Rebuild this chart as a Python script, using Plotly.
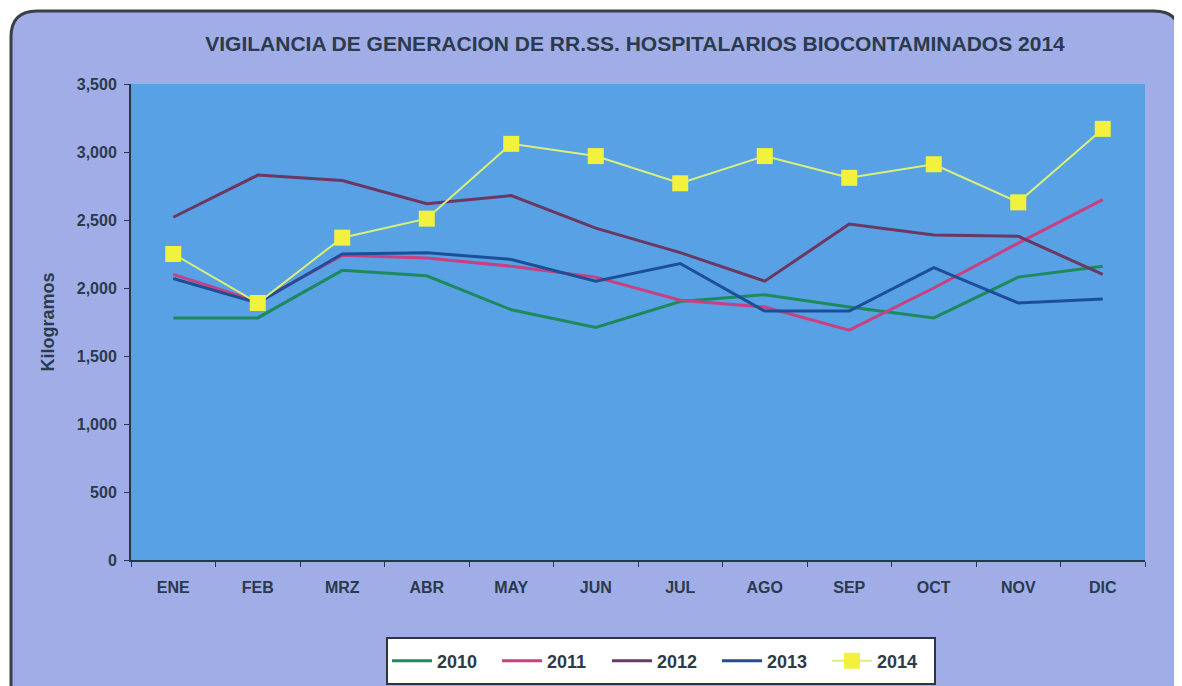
import plotly.graph_objects as go

MONTHS = ["ENE", "FEB", "MRZ", "ABR", "MAY", "JUN", "JUL", "AGO", "SEP", "OCT", "NOV", "DIC"]

KG_2010 = [1780, 1780, 2130, 2090, 1840, 1710, 1900, 1950, 1860, 1780, 2080, 2160]
KG_2011 = [2100, 1900, 2240, 2220, 2160, 2080, 1910, 1860, 1690, 2000, 2330, 2650]
KG_2012 = [2520, 2830, 2790, 2620, 2680, 2440, 2260, 2050, 2470, 2390, 2380, 2100]
KG_2013 = [2070, 1890, 2250, 2260, 2210, 2050, 2180, 1830, 1830, 2150, 1890, 1920]
KG_2014 = [2250, 1890, 2370, 2510, 3060, 2970, 2770, 2970, 2810, 2910, 2630, 3170]

Y_TICKS = [0, 500, 1000, 1500, 2000, 2500, 3000, 3500]

# la página tiene un margen de 8 px: se trabaja en píxeles de pantalla
OFFSET = 8
WIDTH, HEIGHT = 1182 - OFFSET, 686 - OFFSET
LEFT, RIGHT, TOP, BOTTOM = 131, 1145, 84, 560

TEXT_COLOR = "#2b3a4c"
AXIS_COLOR = "#1f3a4a"
FONT = "Liberation Sans, Arial, sans-serif"


def px_to_paper(px, py):
    """Convierte píxeles de pantalla a coordenadas 'paper'."""
    return (px - LEFT) / (RIGHT - LEFT), (BOTTOM - py) / (BOTTOM - TOP)


def px_to_container(px, py):
    """Convierte píxeles de pantalla a coordenadas 'container'."""
    return (px - OFFSET) / WIDTH, 1 - (py - OFFSET) / HEIGHT


def rounded_frame_path(x0, y0, x1, y1, r):
    """Marco redondeado del gráfico, en coordenadas paper."""
    def p(px, py):
        x, y = px_to_paper(px, py)
        return f"{x:.5f},{y:.5f}"

    return (
        f"M {p(x0 + r, y0)} L {p(x1 - r, y0)} Q {p(x1, y0)} {p(x1, y0 + r)} "
        f"L {p(x1, y1 - r)} Q {p(x1, y1)} {p(x1 - r, y1)} "
        f"L {p(x0 + r, y1)} Q {p(x0, y1)} {p(x0, y1 - r)} "
        f"L {p(x0, y0 + r)} Q {p(x0, y0)} {p(x0 + r, y0)} Z"
    )


figure = go.Figure()

series = [
    ("2010", KG_2010, "#1d8a5e"),
    ("2011", KG_2011, "#c8407f"),
    ("2012", KG_2012, "#6a3862"),
    ("2013", KG_2013, "#1c4f98"),
]

for name, values, color in series:
    figure.add_trace(
        go.Scatter(
            x=MONTHS,
            y=values,
            mode="lines",
            name=f"<b>{name}</b>",
            line=dict(color=color, width=3),
        )
    )

figure.add_trace(
    go.Scatter(
        x=MONTHS,
        y=KG_2014,
        mode="lines+markers",
        name="<b>2014</b>",
        line=dict(color="#d8f07a", width=2),
        marker=dict(symbol="square", size=16, color="#f2f23e"),
    )
)

# marco exterior redondeado
figure.add_shape(
    type="path",
    xref="paper",
    yref="paper",
    path=rounded_frame_path(11, 11, 1180, 720, 26),
    fillcolor="#a0ade6",
    line=dict(color="#3a3f48", width=3),
    layer="below",
)

# fondo del área de trazado
figure.add_shape(
    type="rect",
    xref="paper",
    yref="paper",
    x0=0,
    x1=1,
    y0=0,
    y1=1,
    fillcolor="#58a1e4",
    line=dict(width=0),
    layer="below",
)

# caja blanca de la leyenda
legend_x0, legend_y0 = px_to_paper(387, 638)
legend_x1, legend_y1 = px_to_paper(935, 684)
figure.add_shape(
    type="rect",
    xref="paper",
    yref="paper",
    x0=legend_x0,
    x1=legend_x1,
    y0=legend_y0,
    y1=legend_y1,
    fillcolor="white",
    line=dict(color="#2e3440", width=2),
    layer="below",
)

legend_x, legend_y = px_to_container(662, 661)

figure.update_layout(
    width=WIDTH,
    height=HEIGHT,
    margin=dict(
        l=LEFT - OFFSET,
        r=WIDTH - (RIGHT - OFFSET),
        t=TOP - OFFSET,
        b=HEIGHT - (BOTTOM - OFFSET),
    ),
    paper_bgcolor="white",
    plot_bgcolor="#58a1e4",
    font=dict(family=FONT, color=TEXT_COLOR, size=16),
    title=dict(
        text="<b>VIGILANCIA DE GENERACION DE RR.SS. HOSPITALARIOS BIOCONTAMINADOS 2014</b>",
        x=(635 - OFFSET) / WIDTH,
        xanchor="center",
        y=1 - (44 - OFFSET) / HEIGHT,
        yanchor="middle",
        font=dict(size=21, color=TEXT_COLOR),
    ),
    xaxis=dict(
        tickmode="array",
        tickvals=MONTHS,
        ticktext=[f"<b>{m}</b>" for m in MONTHS],
        tickson="boundaries",
        ticks="outside",
        ticklen=5,
        tickcolor=AXIS_COLOR,
        showline=True,
        linecolor=AXIS_COLOR,
        linewidth=2,
        showgrid=False,
        range=[-0.5, 11.5],
        tickfont=dict(size=16),
        ticklabelstandoff=12,
        automargin=False,
    ),
    yaxis=dict(
        title=dict(text="<b>Kilogramos</b>", font=dict(size=18), standoff=17),
        range=[0, 3500],
        tickvals=Y_TICKS,
        ticktext=[f"<b>{v:,}</b>" for v in Y_TICKS],
        ticks="outside",
        ticklen=5,
        tickcolor=AXIS_COLOR,
        showline=True,
        linecolor=AXIS_COLOR,
        linewidth=2,
        showgrid=False,
        zeroline=False,
        tickfont=dict(size=16),
        ticklabelstandoff=4,
        automargin=False,
    ),
    legend=dict(
        orientation="h",
        xref="container",
        yref="container",
        x=legend_x,
        xanchor="center",
        y=legend_y,
        yanchor="middle",
        bgcolor="rgba(0,0,0,0)",
        borderwidth=0,
        font=dict(size=18, color=TEXT_COLOR, family=FONT),
        itemwidth=40,
        entrywidth=55,
    ),
    showlegend=True,
)

figure.write_html("out.html")
